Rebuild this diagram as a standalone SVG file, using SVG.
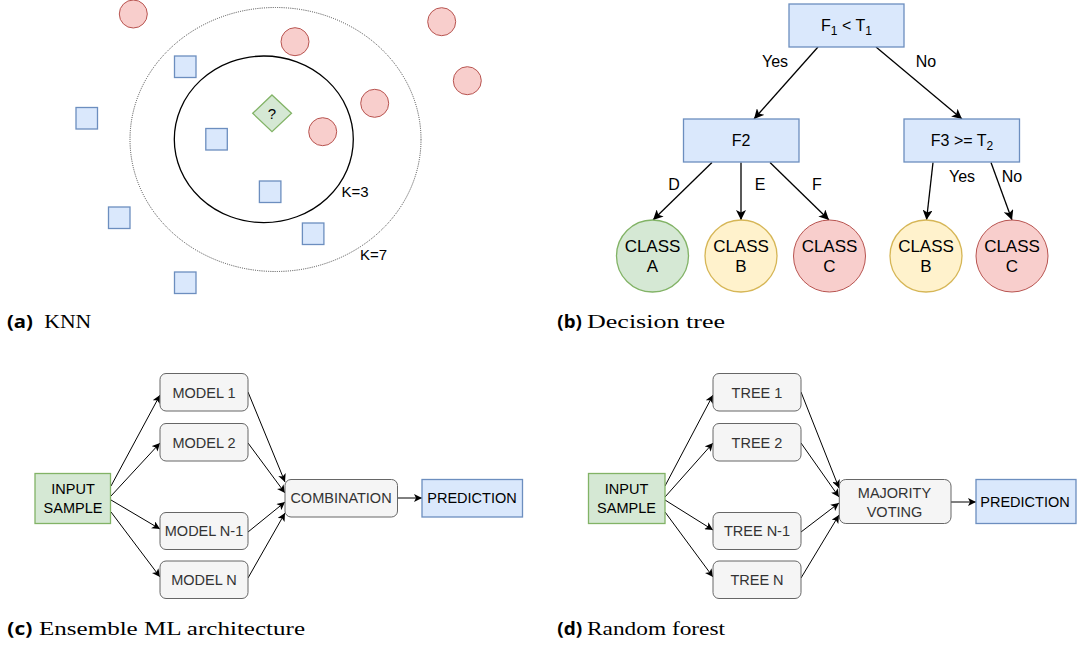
<svg xmlns="http://www.w3.org/2000/svg" width="1078" height="650" viewBox="0 0 1078 650">
<style>
.t{font-family:"Liberation Sans",Arial,sans-serif;fill:#000}
.g{font-family:"Liberation Sans",Arial,sans-serif;fill:#333}
.red{fill:#f8cecc;stroke:#b85450;stroke-width:1}
.blue{fill:#dae8fc;stroke:#6c8ebf;stroke-width:1.3}
.green{fill:#d5e8d4;stroke:#82b366;stroke-width:1.3}
.yellow{fill:#fff2cc;stroke:#d6b656;stroke-width:1.3}
.gray{fill:#f5f5f5;stroke:#666;stroke-width:1}
.e1{stroke:#000;stroke-width:1.3;fill:none}
.e2{stroke:#000;stroke-width:1;fill:none}
.cap{font-family:"Liberation Serif","Times New Roman",serif;font-size:18.5px;fill:#000}
.lab{font-family:"Open Sans","DejaVu Sans",sans-serif;font-weight:bold;font-size:17.5px;fill:#000}
</style>
<defs>
<marker id="a1" viewBox="0 0 10 10" refX="10" refY="5" markerUnits="userSpaceOnUse" markerWidth="10" markerHeight="10" orient="auto">
<path d="M0,0 L10,5 L0,10 L2.5,5 z" fill="#000"/>
</marker>
<marker id="a2" viewBox="0 0 10 10" refX="10" refY="5" markerUnits="userSpaceOnUse" markerWidth="8.5" markerHeight="8" orient="auto">
<path d="M0,0 L10,5 L0,10 L2.5,5 z" fill="#000"/>
</marker>
</defs>
<rect width="1078" height="650" fill="#fff"/>

<!-- (a) KNN -->
<g id="knn">
<ellipse id="k7" cx="275.5" cy="139.5" rx="145.5" ry="132" fill="none" stroke="#444" stroke-width="1" stroke-dasharray="1 1.2"/>
<ellipse id="k3" cx="263.8" cy="139.3" rx="89.5" ry="83.3" fill="none" stroke="#000" stroke-width="1.3"/>
<g id="reds">
<circle class="red" cx="133.3" cy="14" r="14"/>
<circle class="red" cx="295" cy="41.7" r="14"/>
<circle class="red" cx="441.7" cy="21.7" r="14"/>
<circle class="red" cx="467.3" cy="80.7" r="14"/>
<circle class="red" cx="374.7" cy="103.3" r="14"/>
<circle class="red" cx="322.7" cy="131.7" r="14"/>
</g>
<g id="blues">
<rect class="blue" x="174.5" y="56" width="21.5" height="21.5" stroke-width="1"/>
<rect class="blue" x="76" y="107.5" width="21.5" height="21.5" stroke-width="1"/>
<rect class="blue" x="205.8" y="128.5" width="21.5" height="21.5" stroke-width="1"/>
<rect class="blue" x="259.4" y="181" width="21.5" height="21.5" stroke-width="1"/>
<rect class="blue" x="108.5" y="207" width="21.5" height="21.5" stroke-width="1"/>
<rect class="blue" x="302.4" y="223" width="21.5" height="21.5" stroke-width="1"/>
<rect class="blue" x="174.5" y="272" width="21.5" height="21.5" stroke-width="1"/>
</g>
<g id="query">
<polygon class="green" stroke-width="1" points="272,95 291.5,113.3 272,131.7 252.7,113.3"/>
<text class="t" x="272" y="118.5" font-size="15" text-anchor="middle">?</text>
</g>
<text class="t" x="341.5" y="197.3" font-size="15">K=3</text>
<text class="t" x="360" y="260.3" font-size="15">K=7</text>
</g>

<!-- (b) Decision tree -->
<g id="tree-edges">
<line class="e1" x1="818" y1="47" x2="754" y2="119" marker-end="url(#a1)"/>
<line class="e1" x1="876" y1="47" x2="962" y2="119" marker-end="url(#a1)"/>
<line class="e1" x1="712" y1="162.5" x2="653" y2="220" marker-end="url(#a1)"/>
<line class="e1" x1="741" y1="162.5" x2="741" y2="220" marker-end="url(#a1)"/>
<line class="e1" x1="770" y1="162.5" x2="829" y2="220" marker-end="url(#a1)"/>
<line class="e1" x1="933" y1="162.5" x2="926.5" y2="220" marker-end="url(#a1)"/>
<line class="e1" x1="991" y1="162.5" x2="1012" y2="220" marker-end="url(#a1)"/>
<g class="t" font-size="16" text-anchor="middle">
<text x="775" y="67">Yes</text>
<text x="926" y="67">No</text>
<text x="674" y="190">D</text>
<text x="760" y="190">E</text>
<text x="817" y="190">F</text>
<text x="962" y="182">Yes</text>
<text x="1012" y="182">No</text>
</g>
</g>
<g id="root">
<rect class="blue" x="789" y="4" width="115" height="43"/>
<text class="t" x="846.5" y="31" font-size="16" text-anchor="middle">F<tspan font-size="12" dy="4">1</tspan><tspan dy="-4"> &lt; T</tspan><tspan font-size="12" dy="4">1</tspan></text>
</g>
<g id="f2">
<rect class="blue" x="683.5" y="119" width="115.5" height="43"/>
<text class="t" x="741" y="146" font-size="16" text-anchor="middle">F2</text>
</g>
<g id="f3">
<rect class="blue" x="904" y="119" width="115.5" height="43"/>
<text class="t" x="962" y="146" font-size="16" text-anchor="middle">F3 &gt;= T<tspan font-size="12" dy="4">2</tspan></text>
</g>
<g id="classA">
<circle class="green" cx="652.5" cy="256" r="36"/>
<text class="t" x="652.5" y="251.5" font-size="17" text-anchor="middle">CLASS</text>
<text class="t" x="652.5" y="271.5" font-size="17" text-anchor="middle">A</text>
</g>
<g id="classB1">
<circle class="yellow" cx="741" cy="256" r="36"/>
<text class="t" x="741" y="251.5" font-size="17" text-anchor="middle">CLASS</text>
<text class="t" x="741" y="271.5" font-size="17" text-anchor="middle">B</text>
</g>
<g id="classC1">
<circle class="red" stroke-width="1.3" cx="829.5" cy="256" r="36"/>
<text class="t" x="829.5" y="251.5" font-size="17" text-anchor="middle">CLASS</text>
<text class="t" x="829.5" y="271.5" font-size="17" text-anchor="middle">C</text>
</g>
<g id="classB2">
<circle class="yellow" cx="926" cy="256" r="36"/>
<text class="t" x="926" y="251.5" font-size="17" text-anchor="middle">CLASS</text>
<text class="t" x="926" y="271.5" font-size="17" text-anchor="middle">B</text>
</g>
<g id="classC2">
<circle class="red" stroke-width="1.3" cx="1012" cy="256" r="36"/>
<text class="t" x="1012" y="251.5" font-size="17" text-anchor="middle">CLASS</text>
<text class="t" x="1012" y="271.5" font-size="17" text-anchor="middle">C</text>
</g>

<!-- (c) Ensemble -->
<g id="ens-edges">
<line class="e2" x1="111" y1="486" x2="160" y2="395" marker-end="url(#a2)"/>
<line class="e2" x1="111" y1="496" x2="160" y2="443" marker-end="url(#a2)"/>
<line class="e2" x1="111" y1="500" x2="160" y2="529" marker-end="url(#a2)"/>
<line class="e2" x1="111" y1="512" x2="160" y2="577" marker-end="url(#a2)"/>
<line class="e2" x1="248" y1="392" x2="285" y2="482" marker-end="url(#a2)"/>
<line class="e2" x1="248" y1="443" x2="285" y2="493" marker-end="url(#a2)"/>
<line class="e2" x1="248" y1="532" x2="285" y2="502" marker-end="url(#a2)"/>
<line class="e2" x1="248" y1="578" x2="285" y2="513" marker-end="url(#a2)"/>
<line class="e2" x1="397.5" y1="498" x2="422" y2="498" marker-end="url(#a2)"/>
</g>
<g id="ens-input">
<rect class="green" stroke-width="1" x="35" y="473.5" width="75.5" height="50"/>
<text class="t" x="73" y="494" font-size="14.5" text-anchor="middle">INPUT</text>
<text class="t" x="73" y="512.5" font-size="14.5" text-anchor="middle">SAMPLE</text>
</g>
<g id="model1">
<rect class="gray" x="160" y="373.5" width="88" height="37.5" rx="6"/>
<text class="g" x="204" y="397.5" font-size="14.5" text-anchor="middle">MODEL 1</text>
</g>
<g id="model2">
<rect class="gray" x="160" y="423.5" width="88" height="37.5" rx="6"/>
<text class="g" x="204" y="447.5" font-size="14.5" text-anchor="middle">MODEL 2</text>
</g>
<g id="modelN1">
<rect class="gray" x="160" y="512.5" width="88" height="37" rx="6"/>
<text class="g" x="204" y="536" font-size="14.5" text-anchor="middle">MODEL N-1</text>
</g>
<g id="modelN">
<rect class="gray" x="160" y="561" width="88" height="37.5" rx="6"/>
<text class="g" x="204" y="584.5" font-size="14.5" text-anchor="middle">MODEL N</text>
</g>
<g id="combination">
<rect class="gray" x="285" y="479.5" width="112.5" height="37.5" rx="6"/>
<text class="g" x="341" y="503.3" font-size="14.5" text-anchor="middle">COMBINATION</text>
</g>
<g id="ens-prediction">
<rect class="blue" stroke-width="1" x="422" y="479.5" width="100.5" height="37.5"/>
<text class="t" x="472" y="503.3" font-size="14.5" text-anchor="middle">PREDICTION</text>
</g>

<!-- (d) Random forest -->
<g id="rf-edges">
<line class="e2" x1="665" y1="486" x2="713" y2="395" marker-end="url(#a2)"/>
<line class="e2" x1="665" y1="497" x2="713" y2="443" marker-end="url(#a2)"/>
<line class="e2" x1="665" y1="500" x2="713" y2="530" marker-end="url(#a2)"/>
<line class="e2" x1="665" y1="512" x2="713" y2="577" marker-end="url(#a2)"/>
<line class="e2" x1="801" y1="392" x2="839" y2="488" marker-end="url(#a2)"/>
<line class="e2" x1="801" y1="443" x2="839" y2="497" marker-end="url(#a2)"/>
<line class="e2" x1="801" y1="532" x2="839" y2="503" marker-end="url(#a2)"/>
<line class="e2" x1="801" y1="578" x2="839" y2="515" marker-end="url(#a2)"/>
<line class="e2" x1="951" y1="502" x2="976" y2="502" marker-end="url(#a2)"/>
</g>
<g id="rf-input">
<rect class="green" stroke-width="1" x="588.5" y="473.5" width="76.5" height="50"/>
<text class="t" x="626.5" y="494" font-size="14.5" text-anchor="middle">INPUT</text>
<text class="t" x="626.5" y="512.5" font-size="14.5" text-anchor="middle">SAMPLE</text>
</g>
<g id="tree1">
<rect class="gray" x="713" y="373.5" width="88" height="37.5" rx="6"/>
<text class="g" x="757" y="397.5" font-size="14.5" text-anchor="middle">TREE 1</text>
</g>
<g id="tree2">
<rect class="gray" x="713" y="423.5" width="88" height="37.5" rx="6"/>
<text class="g" x="757" y="447.5" font-size="14.5" text-anchor="middle">TREE 2</text>
</g>
<g id="treeN1">
<rect class="gray" x="713" y="512.5" width="88" height="37" rx="6"/>
<text class="g" x="757" y="536" font-size="14.5" text-anchor="middle">TREE N-1</text>
</g>
<g id="treeN">
<rect class="gray" x="713" y="561" width="88" height="37.5" rx="6"/>
<text class="g" x="757" y="584.5" font-size="14.5" text-anchor="middle">TREE N</text>
</g>
<g id="voting">
<rect class="gray" x="839.3" y="479.5" width="111.7" height="44" rx="6.5"/>
<text class="g" x="894.5" y="498.3" font-size="14.5" text-anchor="middle">MAJORITY</text>
<text class="g" x="894.5" y="516.7" font-size="14.5" text-anchor="middle">VOTING</text>
</g>
<g id="rf-prediction">
<rect class="blue" stroke-width="1" x="976" y="479.5" width="100" height="44"/>
<text class="t" x="1025" y="507" font-size="14.5" text-anchor="middle">PREDICTION</text>
</g>

<!-- captions -->
<g id="captions">
<text class="lab" x="7" y="328" textLength="26" lengthAdjust="spacingAndGlyphs">(a)</text>
<text class="cap" x="44.3" y="328" textLength="47" lengthAdjust="spacingAndGlyphs">KNN</text>
<text class="lab" x="557.3" y="328" textLength="24.5" lengthAdjust="spacingAndGlyphs">(b)</text>
<text class="cap" x="587" y="328" textLength="138" lengthAdjust="spacingAndGlyphs">Decision tree</text>
<text class="lab" x="7.3" y="635" textLength="25" lengthAdjust="spacingAndGlyphs">(c)</text>
<text class="cap" x="39" y="635" textLength="266" lengthAdjust="spacingAndGlyphs">Ensemble ML architecture</text>
<text class="lab" x="557.3" y="635" textLength="25" lengthAdjust="spacingAndGlyphs">(d)</text>
<text class="cap" x="587" y="635" textLength="138" lengthAdjust="spacingAndGlyphs">Random forest</text>
</g>
</svg>
